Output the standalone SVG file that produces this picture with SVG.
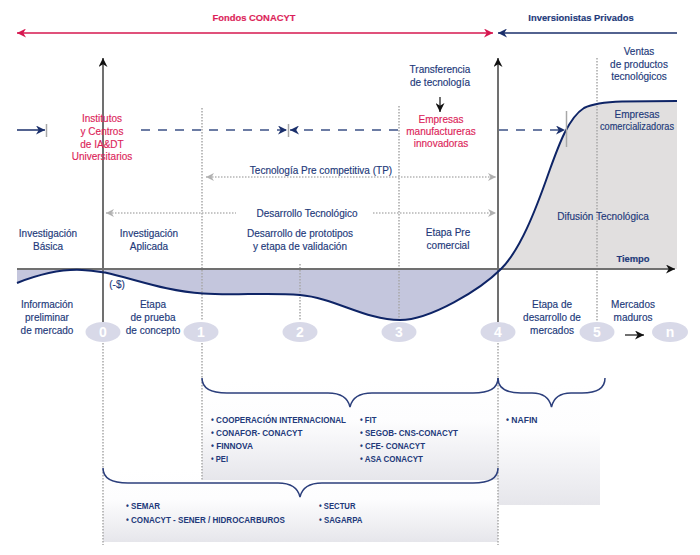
<svg xmlns="http://www.w3.org/2000/svg" width="700" height="555" viewBox="0 0 700 555">
<style>
.t{font-family:"Liberation Sans",Arial,sans-serif;font-size:10px;fill:#22397a;text-anchor:middle;stroke:#22397a;stroke-width:0.15}
.r{fill:#dc1f5a;stroke:#dc1f5a}
.b{font-weight:bold}
.li{font-family:"Liberation Sans",Arial,sans-serif;font-size:9px;font-weight:bold;fill:#22397a}
.num{font-family:"Liberation Sans",Arial,sans-serif;font-size:14px;font-weight:bold;fill:#fff;text-anchor:middle}
.dot{stroke:#a8a8a8;stroke-width:1.5;stroke-dasharray:1.5 1.5;fill:none}
.gdot{stroke:#b5b5b5;stroke-width:1.3;stroke-dasharray:1.5 1.5;fill:none}
.brace{fill:none;stroke:#2c3f7c;stroke-width:1.5}
.axis{stroke:#707070;stroke-width:2;fill:none}
.tick{stroke:#a8a8a8;stroke-width:1.5}
.dash{stroke:#3d5286;stroke-width:1.5;stroke-dasharray:9 8;fill:none}
.circ{fill:#d8d9e8}
</style>
<defs>
<marker id="ared" viewBox="0 0 10 10" refX="10" refY="5" markerWidth="9" markerHeight="9" markerUnits="userSpaceOnUse" orient="auto-start-reverse"><path d="M0,0 L10,5 L0,10 L3,5 Z" fill="#d6174f"/></marker>
<marker id="ablue" viewBox="0 0 10 10" refX="10" refY="5" markerWidth="9" markerHeight="9" markerUnits="userSpaceOnUse" orient="auto-start-reverse"><path d="M0,0 L10,5 L0,10 L3,5 Z" fill="#1a2f6b"/></marker>
<marker id="ablk" viewBox="0 0 10 10" refX="10" refY="5" markerWidth="9" markerHeight="9" markerUnits="userSpaceOnUse" orient="auto-start-reverse"><path d="M0,0 L10,5 L0,10 L3,5 Z" fill="#111"/></marker>
<marker id="agray" viewBox="0 0 10 10" refX="10" refY="5" markerWidth="8" markerHeight="8" markerUnits="userSpaceOnUse" orient="auto-start-reverse"><path d="M0,0 L10,5 L0,10 L3,5 Z" fill="#b0b0b0"/></marker>
<linearGradient id="g" x1="0" y1="0" x2="0" y2="1"><stop offset="0" stop-color="#fff"/><stop offset="0.4" stop-color="#fdfdfe"/><stop offset="1" stop-color="#e6e6eb"/></linearGradient>
</defs>

<!-- areas -->
<g id="areas">
<path d="M17,269 L17,283 C40,274 62,269 82,270 C92,270.5 98,271.5 105,272.5 C135,279 165,291 203,293.5 C235,296 265,292 300,295 C335,298 365,320 400,320 C430,320 480,290 501,269 Z" fill="#c4c6dd"/>
<path d="M501,269 C520,250 535,212 549,172 C558,147 568,118 584,108 C594,103 606,102 622,101.5 L677,101 L677,269 Z" fill="#e1dfdf"/>
</g>

<!-- bottom boxes -->
<g id="boxes">
<rect x="103" y="470" width="395" height="72" fill="url(#g)"/>
<rect x="202" y="380" width="296" height="100" fill="url(#g)"/>
<rect x="498" y="383" width="102" height="122" fill="url(#g)"/>
</g>

<g id="connectors">
<line x1="17" y1="33" x2="493" y2="33" stroke="#d6174f" stroke-width="1.5" marker-start="url(#ared)" marker-end="url(#ared)"/>
<line x1="498" y1="33" x2="677" y2="33" stroke="#1a2f6b" stroke-width="1.5" marker-start="url(#ablue)"/>
<line class="dot" x1="202" y1="108" x2="202" y2="320"/>
<line class="dot" x1="300" y1="264" x2="300" y2="320"/>
<line class="dot" x1="399" y1="106" x2="399" y2="320"/>
<line class="dot" x1="597" y1="58" x2="597" y2="321"/>
<line class="dot" x1="103" y1="343" x2="103" y2="545"/>
<line class="dot" x1="202" y1="343" x2="202" y2="480"/>
<line class="dot" x1="498" y1="343" x2="498" y2="545"/>
<line class="axis" x1="17" y1="269" x2="675" y2="269" marker-end="url(#ablk)"/>
<line class="axis" x1="103" y1="322" x2="103" y2="58" marker-end="url(#ablk)"/>
<line class="axis" x1="498" y1="322" x2="498" y2="58" marker-end="url(#ablk)"/>
<path d="M17,283 C40,274 62,269 82,270 C92,270.5 98,271.5 105,272.5 C135,279 165,291 203,293.5 C235,296 265,292 300,295 C335,298 365,320 400,320 C430,320 480,290 501,269 C520,250 535,212 549,172 C558,147 568,118 584,108 C594,103 606,102 622,101.5 L677,101" fill="none" stroke="#0e2466" stroke-width="2"/>
<line class="gdot" x1="206" y1="177" x2="496" y2="177" marker-start="url(#agray)" marker-end="url(#agray)"/>
<line class="gdot" x1="106" y1="213" x2="236" y2="213" marker-start="url(#agray)"/>
<line class="gdot" x1="373" y1="213" x2="496" y2="213" marker-end="url(#agray)"/>
<line x1="17" y1="130" x2="45" y2="130" stroke="#1a2f6b" stroke-width="1.5" marker-end="url(#ablue)"/>
<line class="tick" x1="46.5" y1="124" x2="46.5" y2="137"/>
<line class="dash" x1="141" y1="130" x2="287" y2="130" marker-end="url(#ablue)"/>
<line class="tick" x1="288.5" y1="124" x2="288.5" y2="137"/>
<line class="dash" x1="398" y1="130" x2="290" y2="130" marker-end="url(#ablue)"/>
<line class="dash" x1="499" y1="130" x2="565" y2="130" marker-end="url(#ablue)"/>
<line class="tick" x1="566.5" y1="111" x2="566.5" y2="147"/>
<line x1="440" y1="97" x2="440" y2="112" stroke="#111" stroke-width="1.2" marker-end="url(#ablk)"/>
<line x1="625" y1="335" x2="644" y2="335" stroke="#111" stroke-width="1.2" marker-end="url(#ablk)"/>
<path class="brace" d="M202,378 C202,388 210,393 227,393 L328,393 C340,393 348,398 350,407 C352,398 360,393 372,393 L473,393 C490,393 498,388 498,378"/>
<path class="brace" d="M498,378 C498,388 506,393 521,393 L532,393 C543,393 549.5,398 551.5,407 C553.5,398 560,393 571,393 L582,393 C597,393 605,388 605,378"/>
<path class="brace" d="M103,468 C103,478 111,483 128,483 L278,483 C290,483 298,488 300,497 C302,488 310,483 322,483 L473,483 C490,483 498,478 498,468"/>
</g>

<g id="fondos"><text class="t b r" x="254" y="21" style="font-size:9.4px">Fondos CONACYT</text></g>
<g id="inversionistas"><text class="t b" x="581" y="21" style="font-size:9.4px">Inversionistas Privados</text></g>

<g id="institutos"><text class="t r" x="102" y="122">Institutos</text><text class="t r" x="102" y="135">y Centros</text><text class="t r" x="102" y="148">de IA&amp;DT</text><text class="t r" x="102" y="160">Universitarios</text></g>
<g id="transferencia"><text class="t" x="440" y="73">Transferencia</text><text class="t" x="440" y="86">de tecnología</text></g>
<g id="empresas-manuf"><text class="t r" x="441" y="123">Empresas</text><text class="t r" x="441" y="135">manufactureras</text><text class="t r" x="441" y="147">innovadoras</text></g>
<g id="ventas"><text class="t" x="639" y="55">Ventas</text><text class="t" x="639" y="68">de productos</text><text class="t" x="639" y="80">tecnológicos</text></g>
<g id="empresas-com"><text class="t" x="637" y="118">Empresas</text><text class="t" x="637" y="130" textLength="74" lengthAdjust="spacingAndGlyphs">comercializadoras</text></g>
<g id="tp"><text class="t" x="321" y="174">Tecnología Pre competitiva (TP)</text></g>
<g id="dt"><text class="t" x="307" y="217">Desarrollo Tecnológico</text></g>
<g id="inv-basica"><text class="t" x="48" y="237">Investigación</text><text class="t" x="48" y="250">Básica</text></g>
<g id="inv-aplicada"><text class="t" x="149" y="237">Investigación</text><text class="t" x="149" y="250">Aplicada</text></g>
<g id="prototipos"><text class="t" x="300" y="237">Desarrollo de prototipos</text><text class="t" x="300" y="250">y etapa de validación</text></g>
<g id="precomercial"><text class="t" x="448" y="236">Etapa Pre</text><text class="t" x="448" y="249">comercial</text></g>
<g id="difusion"><text class="t" x="603" y="220">Difusión Tecnológica</text></g>
<g id="tiempo"><text class="t b" x="633" y="262" style="font-size:9.4px">Tiempo</text></g>
<g id="neg"><text class="t" x="117" y="288">(-$)</text></g>
<g id="info"><text class="t" x="47" y="308">Información</text><text class="t" x="47" y="321">preliminar</text><text class="t" x="47" y="334">de mercado</text></g>
<g id="prueba"><text class="t" x="153" y="308">Etapa</text><text class="t" x="153" y="321">de prueba</text><text class="t" x="153" y="334">de concepto</text></g>
<g id="des-mercados"><text class="t" x="552" y="308">Etapa de</text><text class="t" x="552" y="321">desarrollo de</text><text class="t" x="552" y="334">mercados</text></g>
<g id="maduros"><text class="t" x="633" y="308">Mercados</text><text class="t" x="633" y="321">maduros</text></g>

<g id="s0"><ellipse class="circ" cx="103" cy="332" rx="17.5" ry="10"/><text class="num" x="103" y="337">0</text></g>
<g id="s1"><ellipse class="circ" cx="201" cy="332" rx="17.5" ry="10"/><text class="num" x="201" y="337">1</text></g>
<g id="s2"><ellipse class="circ" cx="300" cy="332" rx="17.5" ry="10"/><text class="num" x="300" y="337">2</text></g>
<g id="s3"><ellipse class="circ" cx="399" cy="332" rx="17.5" ry="10"/><text class="num" x="399" y="337">3</text></g>
<g id="s4"><ellipse class="circ" cx="498" cy="332" rx="17.5" ry="10"/><text class="num" x="498" y="337">4</text></g>
<g id="s5"><ellipse class="circ" cx="597" cy="332" rx="17.5" ry="10"/><text class="num" x="597" y="337">5</text></g>
<g id="sn"><ellipse class="circ" cx="670" cy="332" rx="18" ry="10"/><text class="num" x="670" y="337">n</text></g>

<g id="lista-media">
<text class="li" x="211" y="423" textLength="135" lengthAdjust="spacingAndGlyphs">• COOPERACIÓN INTERNACIONAL</text>
<text class="li" x="211" y="436" textLength="91.5" lengthAdjust="spacingAndGlyphs">• CONAFOR- CONACYT</text>
<text class="li" x="211" y="449" textLength="42" lengthAdjust="spacingAndGlyphs">• FINNOVA</text>
<text class="li" x="211" y="462" textLength="17" lengthAdjust="spacingAndGlyphs">• PEI</text>
<text class="li" x="360" y="423" textLength="16.5" lengthAdjust="spacingAndGlyphs">• FIT</text>
<text class="li" x="360" y="436" textLength="98" lengthAdjust="spacingAndGlyphs">• SEGOB- CNS-CONACYT</text>
<text class="li" x="360" y="449" textLength="65" lengthAdjust="spacingAndGlyphs">• CFE- CONACYT</text>
<text class="li" x="360" y="462" textLength="63" lengthAdjust="spacingAndGlyphs">• ASA CONACYT</text>
</g>
<g id="lista-nafin"><text class="li" x="506" y="423" textLength="31.5" lengthAdjust="spacingAndGlyphs">• NAFIN</text></g>
<g id="lista-baja">
<text class="li" x="126" y="509" textLength="34" lengthAdjust="spacingAndGlyphs">• SEMAR</text>
<text class="li" x="126" y="523" textLength="159" lengthAdjust="spacingAndGlyphs">• CONACYT - SENER / HIDROCARBUROS</text>
<text class="li" x="319" y="509" textLength="36.5" lengthAdjust="spacingAndGlyphs">• SECTUR</text>
<text class="li" x="319" y="523" textLength="43.5" lengthAdjust="spacingAndGlyphs">• SAGARPA</text>
</g>
</svg>
